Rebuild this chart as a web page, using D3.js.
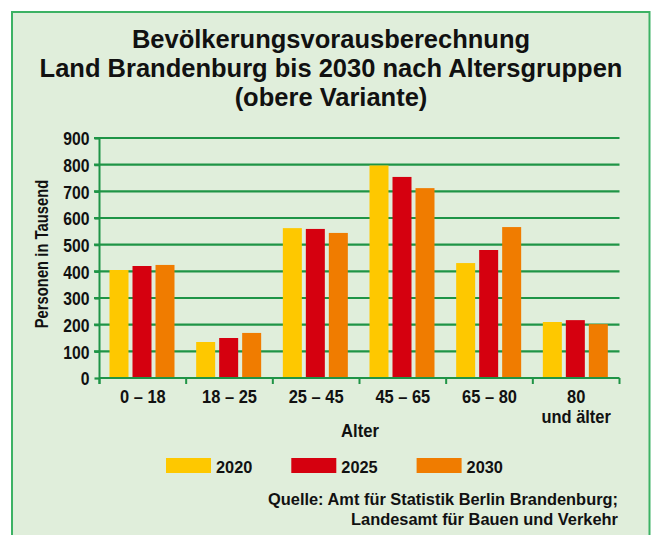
<!DOCTYPE html>
<html><head><meta charset="utf-8">
<script src="https://cdn.jsdelivr.net/npm/d3@7"></script>
<style>
html,body{margin:0;padding:0;background:#fff;}
svg{display:block;}
text{font-family:"Liberation Sans",Arial,sans-serif;font-weight:bold;fill:#111;}
</style></head>
<body>
<script>
const categories = ["0 – 18","18 – 25","25 – 45","45 – 65","65 – 80","80\nund älter"];
const seriesNames = ["2020","2025","2030"];
const values2020 = [405,135,562,797,431,210];
const values2025 = [420,150,559,754,480,217];
const values2030 = [424,169,544,712,566,202];
const yTicks = [0,100,200,300,400,500,600,700,800,900];
const colors = ["#fec800","#d5000f","#f07c00"];
const titleLines = ["Bevölkerungsvorausberechnung","Land Brandenburg bis 2030 nach Altersgruppen","(obere Variante)"];
const yLabel = "Personen in Tausend";
const xLabel = "Alter";
const sourceLines = ["Quelle: Amt für Statistik Berlin Brandenburg;","Landesamt für Bauen und Verkehr"];

const W=653,H=535;
const svg=d3.select("body").append("svg").attr("width",W).attr("height",H);
const gridColor="#1f9446";

// frame
svg.append("rect").attr("x",12).attr("y",12).attr("width",637.5).attr("height",560)
  .attr("fill","#e0eedb").attr("stroke","#3cb264").attr("stroke-width",2);

function squeeze(sel,f){sel.each(function(){const l=this.getComputedTextLength();d3.select(this).attr("textLength",l*f).attr("lengthAdjust","spacingAndGlyphs");});}

// title
svg.append("g").selectAll("text").data(titleLines).join("text")
  .attr("x",331).attr("y",(d,i)=>47.7+i*29).attr("text-anchor","middle")
  .style("font-size","25.5px").text(d=>d);

const x0=d3.scaleBand().domain(categories).range([99.5,619.5]).paddingInner(0).paddingOuter(0);
const x1=d3.scaleBand().domain(seriesNames).range([10,75]).paddingInner(0.174).paddingOuter(0);
const y=d3.scaleLinear().domain([0,900]).range([378,138]);

// gridlines
svg.append("g").selectAll("line").data(yTicks.filter(d=>d>0)).join("line")
  .attr("x1",94).attr("x2",619.5).attr("y1",d=>y(d)).attr("y2",d=>y(d))
  .attr("stroke",gridColor).attr("stroke-width",2.2);

// bars
const data=[values2020,values2025,values2030];
const gBars=svg.append("g");
categories.forEach((c,ci)=>{
  seriesNames.forEach((s,si)=>{
    gBars.append("rect").attr("x",x0(c)+x1(s)).attr("width",x1.bandwidth())
      .attr("y",y(data[si][ci])).attr("height",y(0)-y(data[si][ci])).attr("fill",colors[si]);
  });
});

// y axis
const yAxis=d3.axisLeft(y).tickValues(yTicks).tickSize(5).tickSizeOuter(0).tickPadding(5);
const gy=svg.append("g").attr("transform","translate(99.5,0)").call(yAxis);
gy.select(".domain").attr("d","M0,138V384").attr("stroke",gridColor).attr("stroke-width",2);
gy.selectAll(".tick line").attr("stroke",gridColor).attr("stroke-width",2.2);
gy.selectAll(".tick text").attr("fill","#111").style("font-size","18.5px").style("font-family","Liberation Sans, Arial, sans-serif").style("font-weight","bold").attr("dy","0.36em");
squeeze(gy.selectAll(".tick text"),0.85);

// x axis
const xAxis=d3.axisBottom(x0).tickSize(0).tickFormat("");
const gx=svg.append("g").attr("transform","translate(0,378)").call(xAxis);
gx.select(".domain").attr("d","M99.5,0H619.5").attr("stroke",gridColor).attr("stroke-width",2);
const bounds=categories.map(c=>x0(c)).concat([x0.range()[1]]);
gx.append("g").selectAll("line").data(bounds).join("line")
  .attr("x1",d=>d).attr("x2",d=>d).attr("y1",0).attr("y2",6).attr("stroke",gridColor).attr("stroke-width",2);
const xl=svg.append("g").selectAll("text").data(categories).join("text")
  .attr("x",d=>x0(d)+x0.bandwidth()/2).attr("y",403).attr("text-anchor","middle").style("font-size","17.7px");
xl.each(function(d){
  const t=d3.select(this);
  d.split("\n").forEach((line,i)=>{t.append("tspan").attr("x",x0(d)+x0.bandwidth()/2).attr("dy",i?20:0).text(line);});
});

svg.append("text").attr("x",360).attr("y",437).attr("text-anchor","middle").style("font-size","17.5px").text(xLabel).call(squeeze,0.95);

svg.append("text").attr("transform","translate(48,254) rotate(-90)").attr("text-anchor","middle")
  .style("font-size","18.5px").text(yLabel).call(squeeze,0.8);

// legend
const lg=svg.append("g").selectAll("g").data(seriesNames).join("g")
  .attr("transform",(d,i)=>`translate(${166+i*125.3},0)`);
lg.append("rect").attr("x",0).attr("y",458).attr("width",45).attr("height",15).attr("fill",(d,i)=>colors[i]);
lg.append("text").attr("x",50).attr("y",472.5).style("font-size","17.2px").text(d=>d).call(squeeze,0.95);

// source
svg.append("g").selectAll("text").data(sourceLines).join("text")
  .attr("x",618).attr("y",(d,i)=>505+i*20).attr("text-anchor","end").style("font-size","17px").text(d=>d)
  .each(function(d,i){const l=this.getComputedTextLength();const target=[350,267][i];d3.select(this).attr("textLength",target).attr("lengthAdjust","spacingAndGlyphs");});

// x label tspans squeeze
xl.selectAll("tspan").each(function(){const l=this.getComputedTextLength();d3.select(this).attr("textLength",l*0.93).attr("lengthAdjust","spacingAndGlyphs");});
</script>
</body></html>
